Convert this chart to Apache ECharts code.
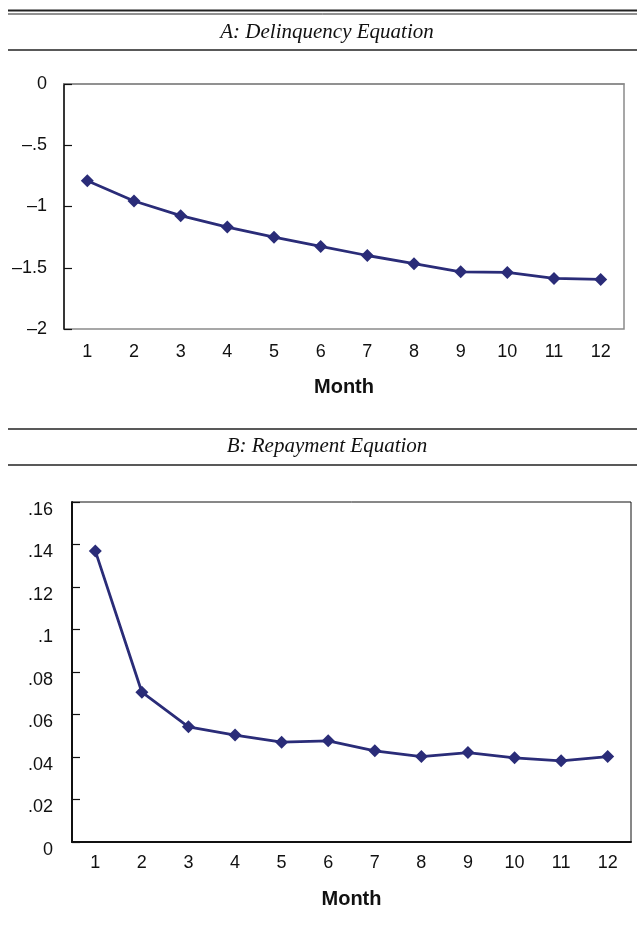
<!DOCTYPE html>
<html>
<head>
<meta charset="utf-8">
<script src="https://cdn.jsdelivr.net/npm/echarts@6/dist/echarts.min.js"></script>
<style>
  html, body { margin: 0; padding: 0; background: #ffffff; }
  #chart { width: 637px; height: 934px; }
</style>
</head>
<body>
<div id="chart"></div>
<script>
// ---- data ----
var months = ['1', '2', '3', '4', '5', '6', '7', '8', '9', '10', '11', '12'];
var delinquency = [-0.79, -0.955, -1.075, -1.168, -1.25, -1.326, -1.40, -1.467, -1.533, -1.538, -1.587, -1.595];
var repayment = [0.137, 0.0705, 0.0542, 0.0503, 0.0470, 0.0476, 0.0429, 0.0402, 0.0421, 0.0396, 0.0382, 0.0402];

var delinqTickValues = [0, -0.5, -1, -1.5, -2];
var delinqTickLabels = ['0', '–.5', '–1', '–1.5', '–2'];
var repayTickValues = [0, 0.02, 0.04, 0.06, 0.08, 0.1, 0.12, 0.14, 0.16];
var repayTickLabels = ['0', '.02', '.04', '.06', '.08', '.1', '.12', '.14', '.16'];

var panelTitleA = 'A: Delinquency Equation';
var panelTitleB = 'B: Repayment Equation';
var xAxisTitle = 'Month';

function labelFor(values, labels) {
  return function (v) {
    for (var i = 0; i < values.length; i++) {
      if (Math.abs(values[i] - v) < 1e-9) return labels[i];
    }
    return '';
  };
}

var lineColor = '#2A2C78';
var sans = '"Liberation Sans", Arial, sans-serif';
var serif = '"Liberation Serif", "Times New Roman", serif';

var chart = echarts.init(document.getElementById('chart'), null, { renderer: 'canvas' });

var option = {
  animation: false,
  backgroundColor: '#ffffff',
  graphic: [
    { type: 'line', shape: { x1: 8, y1: 10.5, x2: 637, y2: 10.5 }, style: { stroke: '#222', lineWidth: 2 } },
    { type: 'line', shape: { x1: 8, y1: 14, x2: 637, y2: 14 }, style: { stroke: '#222', lineWidth: 1 } },
    { type: 'line', shape: { x1: 8, y1: 50, x2: 637, y2: 50 }, style: { stroke: '#222', lineWidth: 1.5 } },
    { type: 'text', style: { text: panelTitleA, x: 327, y: 32, align: 'center', verticalAlign: 'middle', font: 'italic 21px ' + serif, fill: '#111' } },
    { type: 'line', shape: { x1: 8, y1: 429, x2: 637, y2: 429 }, style: { stroke: '#222', lineWidth: 1.5 } },
    { type: 'line', shape: { x1: 8, y1: 465, x2: 637, y2: 465 }, style: { stroke: '#222', lineWidth: 1.5 } },
    { type: 'text', style: { text: panelTitleB, x: 327, y: 446, align: 'center', verticalAlign: 'middle', font: 'italic 21px ' + serif, fill: '#111' } }
  ],
  grid: [
    { left: 64, right: 13, top: 84, height: 245, show: true, borderColor: '#8a8a8a', borderWidth: 1.5, backgroundColor: 'transparent' },
    { left: 72, right: 6, top: 502, height: 340, show: true, borderColor: '#111', borderWidth: 1, backgroundColor: 'transparent' }
  ],
  xAxis: [
    {
      gridIndex: 0, type: 'category', data: months, boundaryGap: true,
      axisLine: { show: true, lineStyle: { color: '#8a8a8a', width: 1.5 } },
      axisTick: { show: false },
      axisLabel: { margin: 14, fontSize: 18, fontFamily: sans, color: '#111' },
      splitLine: { show: false },
      name: xAxisTitle, nameLocation: 'middle', nameGap: 48,
      nameTextStyle: { fontSize: 20, fontWeight: 'bold', fontFamily: sans, color: '#111' }
    },
    {
      gridIndex: 1, type: 'category', data: months, boundaryGap: true,
      axisLine: { show: true, lineStyle: { color: '#111', width: 2 } },
      axisTick: { show: false },
      axisLabel: { margin: 12, fontSize: 18, fontFamily: sans, color: '#111' },
      splitLine: { show: false },
      name: xAxisTitle, nameLocation: 'middle', nameGap: 47,
      nameTextStyle: { fontSize: 20, fontWeight: 'bold', fontFamily: sans, color: '#111' }
    }
  ],
  yAxis: [
    {
      gridIndex: 0, type: 'value', min: -2, max: 0, interval: 0.5,
      axisLine: { show: true, onZero: false, lineStyle: { color: '#111', width: 1.5 } },
      axisTick: { show: true, inside: true, length: 8, lineStyle: { color: '#111', width: 1.2 } },
      axisLabel: { margin: 17, fontSize: 18, fontFamily: sans, color: '#111', formatter: labelFor(delinqTickValues, delinqTickLabels) },
      splitLine: { show: false }
    },
    {
      gridIndex: 1, type: 'value', min: 0, max: 0.16, interval: 0.02,
      axisLine: { show: true, onZero: false, lineStyle: { color: '#111', width: 2 } },
      axisTick: { show: true, inside: true, length: 8, lineStyle: { color: '#111', width: 1.2 } },
      axisLabel: { margin: 19, fontSize: 18, fontFamily: sans, color: '#111', verticalAlign: 'top', lineHeight: 16, formatter: labelFor(repayTickValues, repayTickLabels) },
      splitLine: { show: false }
    }
  ],
  series: [
    {
      type: 'line', xAxisIndex: 0, yAxisIndex: 0, data: delinquency,
      symbol: 'diamond', symbolSize: 13,
      lineStyle: { color: lineColor, width: 2.8 },
      itemStyle: { color: lineColor }
    },
    {
      type: 'line', xAxisIndex: 1, yAxisIndex: 1, data: repayment,
      symbol: 'diamond', symbolSize: 13,
      lineStyle: { color: lineColor, width: 2.8 },
      itemStyle: { color: lineColor }
    }
  ]
};

chart.setOption(option);
</script>
</body>
</html>
